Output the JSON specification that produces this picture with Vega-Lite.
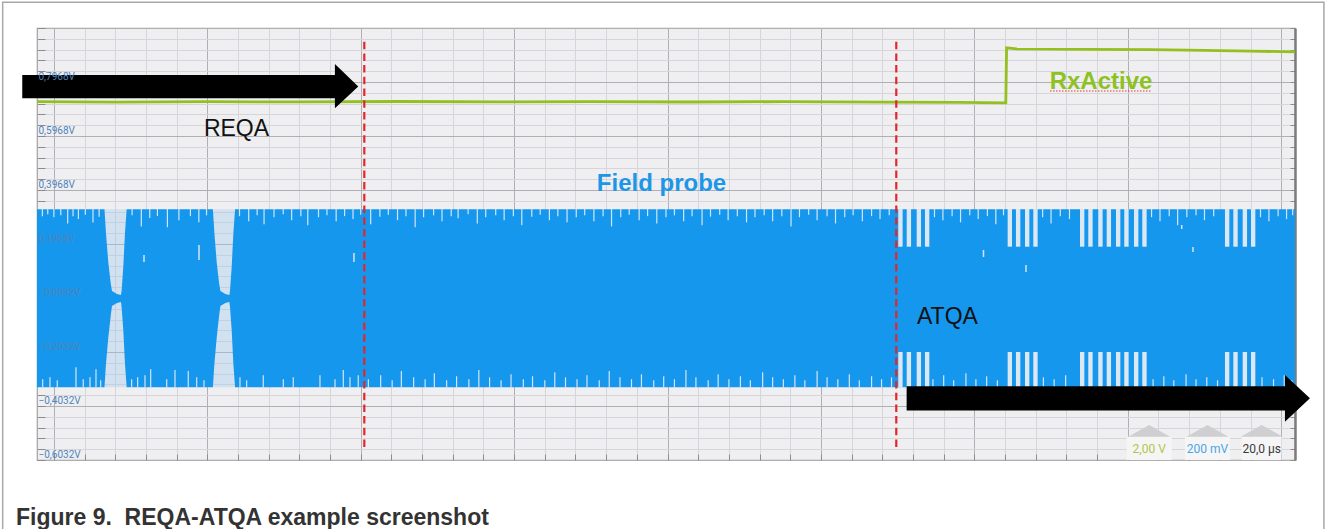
{
  "$schema": "https://vega.github.io/schema/vega-lite/v6.json",
  "width": 1258,
  "height": 432,
  "autosize": "none",
  "padding": {"left": 37, "top": 28, "right": 34, "bottom": 69},
  "background": "white",
  "config": {"view": {"fill": "#efeff1", "stroke": "#a2a2a2", "strokeWidth": 1.2}},
  "datasets": {
    "frame": [{"t": -6.675, "t2": 165.57, "v": 1.092, "v2": -0.899}],
    "gaps": [{"t": 6.5, "t2": 9.6, "v": 0.3253, "v2": -0.3339}, {"t": 20.65, "t2": 23.75, "v": 0.3253, "v2": -0.3339}],
    "carrier": [
      {"t": -2.2, "v": 0.3253, "v2": -0.3339},
      {"t": 6.597, "v": 0.3253, "v2": -0.3339},
      {"t": 6.792, "v": 0.2375, "v2": -0.2476},
      {"t": 7.092, "v": 0.1301, "v2": -0.1513},
      {"t": 7.405, "v": 0.0524, "v2": -0.0699},
      {"t": 7.574, "v": 0.0227, "v2": -0.0328},
      {"t": 8.226, "v": 0.0116, "v2": -0.0217},
      {"t": 8.748, "v": 0.0079, "v2": -0.018},
      {"t": 8.839, "v": 0.0264, "v2": -0.0402},
      {"t": 9.047, "v": 0.1116, "v2": -0.1217},
      {"t": 9.269, "v": 0.2375, "v2": -0.2476},
      {"t": 9.491, "v": 0.3253, "v2": -0.3339},
      {"t": 20.729, "v": 0.3253, "v2": -0.3339},
      {"t": 20.924, "v": 0.2375, "v2": -0.2476},
      {"t": 21.224, "v": 0.1301, "v2": -0.1513},
      {"t": 21.537, "v": 0.0524, "v2": -0.0699},
      {"t": 21.706, "v": 0.0227, "v2": -0.0328},
      {"t": 22.358, "v": 0.0116, "v2": -0.0217},
      {"t": 22.88, "v": 0.0079, "v2": -0.018},
      {"t": 22.971, "v": 0.0264, "v2": -0.0402},
      {"t": 23.179, "v": 0.1116, "v2": -0.1217},
      {"t": 23.401, "v": 0.2375, "v2": -0.2476},
      {"t": 23.623, "v": 0.3253, "v2": -0.3339},
      {"t": 161.8, "v": 0.3253, "v2": -0.3339}
    ],
    "stripes": [
      {"t": 110.08, "t2": 110.65, "v": 0.327, "v2": 0.1868}, {"t": 111.18, "t2": 111.75, "v": 0.327, "v2": 0.1868}, {"t": 112.48, "t2": 113.05, "v": 0.327, "v2": 0.1868}, {"t": 113.56, "t2": 114.13, "v": 0.327, "v2": 0.1868},
      {"t": 124.34, "t2": 124.91, "v": 0.327, "v2": 0.1868}, {"t": 125.42, "t2": 125.99, "v": 0.327, "v2": 0.1868}, {"t": 126.6, "t2": 127.17, "v": 0.327, "v2": 0.1868}, {"t": 127.68, "t2": 128.25, "v": 0.327, "v2": 0.1868},
      {"t": 133.77, "t2": 134.34, "v": 0.327, "v2": 0.1868}, {"t": 134.85, "t2": 135.42, "v": 0.327, "v2": 0.1868}, {"t": 136.15, "t2": 136.72, "v": 0.327, "v2": 0.1868}, {"t": 137.25, "t2": 137.82, "v": 0.327, "v2": 0.1868},
      {"t": 138.46, "t2": 139.03, "v": 0.327, "v2": 0.1868}, {"t": 139.54, "t2": 140.11, "v": 0.327, "v2": 0.1868}, {"t": 140.81, "t2": 141.38, "v": 0.327, "v2": 0.1868}, {"t": 141.89, "t2": 142.46, "v": 0.327, "v2": 0.1868},
      {"t": 152.67, "t2": 153.24, "v": 0.327, "v2": 0.1868}, {"t": 153.76, "t2": 154.33, "v": 0.327, "v2": 0.1868}, {"t": 154.98, "t2": 155.55, "v": 0.327, "v2": 0.1868}, {"t": 156.06, "t2": 156.63, "v": 0.327, "v2": 0.1868},
      {"t": 110.08, "t2": 110.65, "v": -0.2032, "v2": -0.335}, {"t": 111.18, "t2": 111.75, "v": -0.2032, "v2": -0.335}, {"t": 112.48, "t2": 113.05, "v": -0.2032, "v2": -0.335}, {"t": 113.56, "t2": 114.13, "v": -0.2032, "v2": -0.335},
      {"t": 124.34, "t2": 124.91, "v": -0.2032, "v2": -0.335}, {"t": 125.42, "t2": 125.99, "v": -0.2032, "v2": -0.335}, {"t": 126.6, "t2": 127.17, "v": -0.2032, "v2": -0.335}, {"t": 127.68, "t2": 128.25, "v": -0.2032, "v2": -0.335},
      {"t": 133.77, "t2": 134.34, "v": -0.2032, "v2": -0.335}, {"t": 134.85, "t2": 135.42, "v": -0.2032, "v2": -0.335}, {"t": 136.15, "t2": 136.72, "v": -0.2032, "v2": -0.335}, {"t": 137.25, "t2": 137.82, "v": -0.2032, "v2": -0.335},
      {"t": 138.46, "t2": 139.03, "v": -0.2032, "v2": -0.335}, {"t": 139.54, "t2": 140.11, "v": -0.2032, "v2": -0.335}, {"t": 140.81, "t2": 141.38, "v": -0.2032, "v2": -0.335}, {"t": 141.89, "t2": 142.46, "v": -0.2032, "v2": -0.335},
      {"t": 152.67, "t2": 153.24, "v": -0.2032, "v2": -0.335}, {"t": 153.76, "t2": 154.33, "v": -0.2032, "v2": -0.335}, {"t": 154.98, "t2": 155.55, "v": -0.2032, "v2": -0.335}, {"t": 156.06, "t2": 156.63, "v": -0.2032, "v2": -0.335}
    ],
    "spikesTop": [
      {"t": -1.5, "v": 0.3}, {"t": -0.8, "v": 0.307}, {"t": 0.0, "v": 0.296}, {"t": 0.9, "v": 0.303}, {"t": 1.8, "v": 0.273}, {"t": 2.5, "v": 0.3}, {"t": 3.2, "v": 0.289}, {"t": 4.1, "v": 0.305}, {"t": 5.1, "v": 0.276}, {"t": 5.9, "v": 0.298},
      {"t": 10.2, "v": 0.303}, {"t": 11.4, "v": 0.262}, {"t": 12.5, "v": 0.293}, {"t": 13.5, "v": 0.3}, {"t": 14.8, "v": 0.259}, {"t": 16.3, "v": 0.285}, {"t": 17.8, "v": 0.3}, {"t": 18.9, "v": 0.277}, {"t": 19.9, "v": 0.303},
      {"t": 24.2, "v": 0.3}, {"t": 25.4, "v": 0.281}, {"t": 26.5, "v": 0.303}, {"t": 27.4, "v": 0.27}, {"t": 28.7, "v": 0.296}, {"t": 29.9, "v": 0.307}, {"t": 31.0, "v": 0.285}, {"t": 32.2, "v": 0.3}, {"t": 33.1, "v": 0.266}, {"t": 34.5, "v": 0.296},
      {"t": 35.6, "v": 0.303}, {"t": 36.8, "v": 0.281}, {"t": 37.9, "v": 0.3}, {"t": 39.0, "v": 0.289}, {"t": 40.0, "v": 0.305}, {"t": 41.3, "v": 0.27}, {"t": 42.5, "v": 0.298}, {"t": 43.6, "v": 0.305}, {"t": 44.8, "v": 0.285}, {"t": 45.9, "v": 0.3},
      {"t": 47.1, "v": 0.259}, {"t": 48.2, "v": 0.296}, {"t": 49.5, "v": 0.303}, {"t": 50.6, "v": 0.281}, {"t": 51.8, "v": 0.3}, {"t": 52.7, "v": 0.292}, {"t": 54.0, "v": 0.307}, {"t": 55.2, "v": 0.273}, {"t": 56.3, "v": 0.296}, {"t": 57.6, "v": 0.303},
      {"t": 58.7, "v": 0.285}, {"t": 59.9, "v": 0.3}, {"t": 61.0, "v": 0.266}, {"t": 62.3, "v": 0.298}, {"t": 63.4, "v": 0.305}, {"t": 64.6, "v": 0.285}, {"t": 65.7, "v": 0.3}, {"t": 66.9, "v": 0.277}, {"t": 68.1, "v": 0.296}, {"t": 69.2, "v": 0.303},
      {"t": 70.4, "v": 0.281}, {"t": 71.6, "v": 0.3}, {"t": 72.7, "v": 0.262}, {"t": 73.9, "v": 0.296}, {"t": 75.0, "v": 0.305}, {"t": 76.3, "v": 0.285}, {"t": 77.4, "v": 0.3}, {"t": 78.6, "v": 0.273}, {"t": 79.8, "v": 0.296}, {"t": 80.9, "v": 0.303},
      {"t": 82.1, "v": 0.281}, {"t": 83.2, "v": 0.3}, {"t": 84.5, "v": 0.266}, {"t": 85.6, "v": 0.298}, {"t": 86.8, "v": 0.305}, {"t": 87.9, "v": 0.285}, {"t": 89.1, "v": 0.3}, {"t": 90.3, "v": 0.277}, {"t": 91.4, "v": 0.296}, {"t": 92.6, "v": 0.303},
      {"t": 93.7, "v": 0.281}, {"t": 94.9, "v": 0.3}, {"t": 96.1, "v": 0.262}, {"t": 97.2, "v": 0.296}, {"t": 98.4, "v": 0.305}, {"t": 99.5, "v": 0.285}, {"t": 100.8, "v": 0.3}, {"t": 101.9, "v": 0.273}, {"t": 103.1, "v": 0.296}, {"t": 104.2, "v": 0.303},
      {"t": 105.4, "v": 0.281}, {"t": 106.6, "v": 0.3}, {"t": 107.7, "v": 0.289}, {"t": 108.9, "v": 0.303},
      {"t": 114.8, "v": 0.296}, {"t": 115.9, "v": 0.285}, {"t": 117.1, "v": 0.3}, {"t": 118.2, "v": 0.277}, {"t": 119.4, "v": 0.303}, {"t": 120.5, "v": 0.289}, {"t": 121.7, "v": 0.3}, {"t": 122.8, "v": 0.27}, {"t": 123.8, "v": 0.303},
      {"t": 128.9, "v": 0.296}, {"t": 130.0, "v": 0.273}, {"t": 131.2, "v": 0.3}, {"t": 132.4, "v": 0.289},
      {"t": 143.1, "v": 0.296}, {"t": 144.2, "v": 0.281}, {"t": 145.4, "v": 0.3}, {"t": 146.5, "v": 0.266}, {"t": 147.7, "v": 0.296}, {"t": 148.9, "v": 0.303}, {"t": 150.0, "v": 0.285}, {"t": 151.2, "v": 0.3},
      {"t": 157.3, "v": 0.296}, {"t": 158.4, "v": 0.281}, {"t": 159.6, "v": 0.3}, {"t": 160.7, "v": 0.289}, {"t": 161.5, "v": 0.303}
    ],
    "spikesBottom": [
      {"t": -1.46, "v": -0.304}, {"t": -0.51, "v": -0.297}, {"t": 0.44, "v": -0.308}, {"t": 2.88, "v": -0.26}, {"t": 3.83, "v": -0.304}, {"t": 4.71, "v": -0.297}, {"t": 5.49, "v": -0.267}, {"t": 6.1, "v": -0.308},
      {"t": 10.14, "v": -0.304}, {"t": 10.92, "v": -0.297}, {"t": 11.88, "v": -0.289}, {"t": 12.62, "v": -0.267}, {"t": 14.71, "v": -0.304}, {"t": 15.79, "v": -0.27}, {"t": 17.52, "v": -0.274}, {"t": 18.62, "v": -0.297}, {"t": 19.57, "v": -0.308},
      {"t": 24.26, "v": -0.297}, {"t": 25.13, "v": -0.308}, {"t": 27.3, "v": -0.289}, {"t": 29.91, "v": -0.304}, {"t": 31.21, "v": -0.297}, {"t": 34.69, "v": -0.289}, {"t": 36.65, "v": -0.304}, {"t": 37.73, "v": -0.27}, {"t": 38.6, "v": -0.297}, {"t": 39.68, "v": -0.289},
      {"t": 41.0, "v": -0.304}, {"t": 42.6, "v": -0.289}, {"t": 44.1, "v": -0.308}, {"t": 45.3, "v": -0.274}, {"t": 46.9, "v": -0.297}, {"t": 48.4, "v": -0.304}, {"t": 49.6, "v": -0.282}, {"t": 51.2, "v": -0.308}, {"t": 52.5, "v": -0.293}, {"t": 54.1, "v": -0.304},
      {"t": 55.4, "v": -0.27}, {"t": 56.8, "v": -0.297}, {"t": 58.3, "v": -0.308}, {"t": 59.6, "v": -0.286}, {"t": 61.2, "v": -0.304}, {"t": 62.4, "v": -0.293}, {"t": 64.0, "v": -0.308}, {"t": 65.3, "v": -0.278}, {"t": 66.7, "v": -0.297}, {"t": 68.2, "v": -0.304},
      {"t": 69.5, "v": -0.289}, {"t": 71.1, "v": -0.308}, {"t": 72.4, "v": -0.274}, {"t": 73.8, "v": -0.297}, {"t": 75.3, "v": -0.304}, {"t": 76.6, "v": -0.286}, {"t": 78.2, "v": -0.308}, {"t": 79.5, "v": -0.293}, {"t": 80.9, "v": -0.304}, {"t": 82.4, "v": -0.27},
      {"t": 83.7, "v": -0.297}, {"t": 85.3, "v": -0.308}, {"t": 86.6, "v": -0.286}, {"t": 88.0, "v": -0.304}, {"t": 89.5, "v": -0.293}, {"t": 90.8, "v": -0.308}, {"t": 92.4, "v": -0.278}, {"t": 93.7, "v": -0.297}, {"t": 95.1, "v": -0.304}, {"t": 96.6, "v": -0.289},
      {"t": 97.9, "v": -0.308}, {"t": 99.5, "v": -0.274}, {"t": 100.8, "v": -0.297}, {"t": 102.2, "v": -0.304}, {"t": 103.7, "v": -0.286}, {"t": 105.0, "v": -0.308}, {"t": 106.6, "v": -0.293}, {"t": 107.9, "v": -0.304}, {"t": 109.2, "v": -0.297},
      {"t": 114.6, "v": -0.304}, {"t": 116.0, "v": -0.289}, {"t": 117.3, "v": -0.308}, {"t": 118.9, "v": -0.282}, {"t": 120.2, "v": -0.304}, {"t": 121.6, "v": -0.293}, {"t": 123.0, "v": -0.308},
      {"t": 129.0, "v": -0.297}, {"t": 130.4, "v": -0.304}, {"t": 131.9, "v": -0.289},
      {"t": 143.3, "v": -0.304}, {"t": 144.7, "v": -0.293}, {"t": 146.0, "v": -0.308}, {"t": 147.6, "v": -0.286}, {"t": 148.9, "v": -0.304}, {"t": 150.3, "v": -0.297}, {"t": 151.7, "v": -0.308},
      {"t": 157.5, "v": -0.297}, {"t": 159.0, "v": -0.304}, {"t": 160.4, "v": -0.289}, {"t": 161.4, "v": -0.308}
    ],
    "dashes": [
      {"t": 11.75, "v": 0.1561, "v2": 0.1301}, {"t": 18.92, "v": 0.1931, "v2": 0.1375}, {"t": 39.12, "v": 0.1635, "v2": 0.1301},
      {"t": 121.19, "v": 0.1746, "v2": 0.1487}, {"t": 126.73, "v": 0.119, "v2": 0.0931}, {"t": 147.03, "v": 0.2672, "v2": 0.2524}, {"t": 148.5, "v": 0.1857, "v2": 0.1672}
    ],
    "rxactive": [
      {"t": -2.2, "v": 0.7238}, {"t": 8, "v": 0.7225}, {"t": 20, "v": 0.724}, {"t": 32, "v": 0.723}, {"t": 45, "v": 0.7245}, {"t": 58, "v": 0.7232},
      {"t": 70, "v": 0.7238}, {"t": 83, "v": 0.7228}, {"t": 95, "v": 0.724}, {"t": 108, "v": 0.7226}, {"t": 118, "v": 0.7215}, {"t": 124.1, "v": 0.7195},
      {"t": 124.2, "v": 0.9235}, {"t": 125.5, "v": 0.9195}, {"t": 135, "v": 0.918}, {"t": 143, "v": 0.9165}, {"t": 150, "v": 0.914}, {"t": 156, "v": 0.911}, {"t": 161.8, "v": 0.9085}
    ],
    "markers": [{"t": 40.47, "v": 0.9461, "v2": -0.5662}, {"t": 109.82, "v": 0.9461, "v2": -0.5662}],
    "squiggle": [{"t": 129.86, "t2": 143.12, "v": 0.7635}],
    "badges": [
      {"t": 139.86, "t2": 145.73, "c": 142.79, "v": -0.5169, "v2": -0.6032, "vt": -0.4952, "vx": -0.5636, "label": "2,00 V", "k": "ch1"},
      {"t": 147.46, "t2": 153.33, "c": 150.39, "v": -0.5169, "v2": -0.6032, "vt": -0.4952, "vx": -0.5636, "label": "200 mV", "k": "ch2"},
      {"t": 154.85, "t2": 160.06, "c": 157.46, "v": -0.5169, "v2": -0.6032, "vt": -0.4952, "vx": -0.5636, "label": "20,0 µs", "k": "time"}
    ],
    "notesPlain": [{"t": 23.81, "v": 0.5968, "label": "REQA", "k": "plain"}, {"t": 116.49, "v": -0.1006, "label": "ATQA", "k": "plain"}],
    "notesBold": [{"t": 79.21, "v": 0.3931, "label": "Field probe", "k": "probe"}, {"t": 136.51, "v": 0.7698, "label": "RxActive", "k": "rx"}],
    "arrowReqa": [{"t": 17.78, "v": 0.7805}],
    "arrowAtqa": [{"t": 137.46, "v": -0.3747}],
    "caption": [{"t": -4.94, "v": -0.8439, "label": "Figure 9.\u00a0 REQA-ATQA example screenshot"}]
  },
  "encoding": {
    "x": {"field": "t", "type": "quantitative", "scale": {"domain": [-2.2, 161.8], "nice": false, "zero": false}, "axis": null},
    "y": {"field": "v", "type": "quantitative", "scale": {"domain": [-0.6032, 0.9968], "nice": false, "zero": false}, "axis": null}
  },
  "layer": [
    {
      "data": {"name": "frame"},
      "mark": {"type": "rect", "filled": false, "color": "#a8a8a8", "strokeWidth": 1.5, "clip": false},
      "encoding": {
        "x": {"field": "t", "type": "quantitative", "scale": {"domain": [-2.2, 161.8], "nice": false, "zero": false},
          "axis": {"orient": "bottom", "title": null, "values": [0,4,8,12,16,20,24,28,32,36,40,44,48,52,56,60,64,68,72,76,80,84,88,92,96,100,104,108,112,116,120,124,128,132,136,140,144,148,152,156,160],
            "grid": true, "gridColor": "#d6d6da", "gridWidth": 1, "ticks": false, "labels": false, "domain": false}},
        "x2": {"field": "t2"},
        "y": {"field": "v", "type": "quantitative", "scale": {"domain": [-0.6032, 0.9968], "nice": false, "zero": false},
          "axis": {"orient": "left", "title": null, "values": [-0.6032,-0.5632,-0.5232,-0.4832,-0.4432,-0.4032,-0.3632,-0.3232,-0.2832,-0.2432,-0.2032,-0.1632,-0.1232,-0.0832,-0.0432,-0.0032,0.0368,0.0768,0.1168,0.1568,0.1968,0.2368,0.2768,0.3168,0.3568,0.3968,0.4368,0.4768,0.5168,0.5568,0.5968,0.6368,0.6768,0.7168,0.7568,0.7968,0.8368,0.8768,0.9168,0.9568,0.9968],
            "grid": true, "gridColor": "#d6d6da", "gridWidth": 1, "ticks": false, "labels": false, "domain": false}},
        "y2": {"field": "v2"}
      }
    },
    {
      "data": {"name": "gaps"},
      "mark": {"type": "rect", "color": "#9ec8ee", "opacity": 0.35},
      "encoding": {
        "x": {"field": "t", "type": "quantitative", "scale": {"domain": [-2.2, 161.8], "nice": false, "zero": false},
          "axis": {"orient": "bottom", "title": null, "values": [0,20,40,60,80,100,120,140,160], "grid": true, "gridColor": "#b0b0b4", "gridWidth": 1, "ticks": false, "labels": false, "domain": false}},
        "x2": {"field": "t2"},
        "y": {"field": "v", "type": "quantitative", "scale": {"domain": [-0.6032, 0.9968], "nice": false, "zero": false},
          "axis": {"orient": "left", "title": null, "values": [-0.6032,-0.4032,-0.2032,-0.0032,0.1968,0.3968,0.5968,0.7968,0.9968], "grid": true, "gridColor": "#b0b0b4", "gridWidth": 1, "ticks": false, "labels": false, "domain": false}},
        "y2": {"field": "v2"}
      }
    },
    {
      "data": {"name": "carrier"},
      "mark": {"type": "area", "color": "#1597ee", "opacity": 1, "interpolate": "linear"},
      "encoding": {
        "x": {"field": "t", "type": "quantitative", "scale": {"domain": [-2.2, 161.8], "nice": false, "zero": false},
          "axis": {"orient": "bottom", "title": null, "values": [0,4,8,12,16,20,24,28,32,36,40,44,48,52,56,60,64,68,72,76,80,84,88,92,96,100,104,108,112,116,120,124,128,132,136,140,144,148,152,156,160],
            "grid": false, "ticks": true, "tickSize": -6, "tickColor": "#8c8c8c", "tickWidth": 1, "labels": false, "domain": false}},
        "y": {"field": "v", "type": "quantitative", "scale": {"domain": [-0.6032, 0.9968], "nice": false, "zero": false},
          "axis": {"orient": "left", "title": null, "values": [-0.6032,-0.5632,-0.5232,-0.4832,-0.4432,-0.4032,-0.3632,-0.3232,-0.2832,-0.2432,-0.2032,-0.1632,-0.1232,-0.0832,-0.0432,-0.0032,0.0368,0.0768,0.1168,0.1568,0.1968,0.2368,0.2768,0.3168,0.3568,0.3968,0.4368,0.4768,0.5168,0.5568,0.5968,0.6368,0.6768,0.7168,0.7568,0.7968,0.8368,0.8768,0.9168,0.9568,0.9968],
            "grid": false, "ticks": true, "tickSize": -8, "tickColor": "#8c8c8c", "tickWidth": 1, "labels": false, "domain": false}},
        "y2": {"field": "v2"}
      }
    },
    {
      "data": {"name": "stripes"},
      "mark": {"type": "rect", "color": "#dbe7f3"},
      "encoding": {"x2": {"field": "t2"}, "y2": {"field": "v2"}}
    },
    {
      "data": {"name": "spikesTop"},
      "mark": {"type": "rule", "color": "#d6e4f2", "strokeWidth": 1.2},
      "encoding": {"y2": {"datum": 0.327}}
    },
    {
      "data": {"name": "spikesBottom"},
      "mark": {"type": "rule", "color": "#d6e4f2", "strokeWidth": 1.2},
      "encoding": {"y2": {"datum": -0.335}}
    },
    {
      "data": {"name": "dashes"},
      "mark": {"type": "rule", "color": "#d6e4f2", "strokeWidth": 1.5},
      "encoding": {"y2": {"field": "v2"}}
    },
    {
      "data": {"name": "rxactive"},
      "mark": {"type": "line", "color": "#93c01f", "strokeWidth": 2.8, "interpolate": "linear"},
      "encoding": {
        "y": {"field": "v", "type": "quantitative", "scale": {"domain": [-0.6032, 0.9968], "nice": false, "zero": false},
          "axis": {"orient": "right", "title": null, "values": [-0.6032,-0.5632,-0.5232,-0.4832,-0.4432,-0.4032,-0.3632,-0.3232,-0.2832,-0.2432,-0.2032,-0.1632,-0.1232,-0.0832,-0.0432,-0.0032,0.0368,0.0768,0.1168,0.1568,0.1968,0.2368,0.2768,0.3168,0.3568,0.3968,0.4368,0.4768,0.5168,0.5568,0.5968,0.6368,0.6768,0.7168,0.7568,0.7968,0.8368,0.8768,0.9168,0.9568,0.9968],
            "grid": false, "ticks": true, "tickSize": -5, "tickColor": "#8c8c8c", "tickWidth": 1, "labels": false, "domain": true, "domainColor": "#7c7c7c", "domainWidth": 2.5}}
      }
    },
    {
      "data": {"name": "markers"},
      "mark": {"type": "rule", "color": "#e3262c", "strokeWidth": 2.2, "strokeDash": [7.5, 4.2]},
      "encoding": {"y2": {"field": "v2"}}
    },
    {
      "data": {"name": "squiggle"},
      "mark": {"type": "rule", "color": "#e0393b", "strokeWidth": 1, "strokeDash": [1.5, 1.5]},
      "encoding": {"x2": {"field": "t2"}}
    },
    {
      "data": {"name": "badges"},
      "mark": {"type": "rect", "color": "#f5f5f6"},
      "encoding": {"x2": {"field": "t2"}, "y2": {"field": "v2"}}
    },
    {
      "data": {"name": "badges"},
      "mark": {"type": "point", "shape": "M-1,0.28L0,-0.28L1,0.28Z", "size": 1764, "filled": true, "color": "#cfcfd1", "opacity": 1},
      "encoding": {
        "x": {"field": "c", "type": "quantitative", "scale": {"domain": [-2.2, 161.8], "nice": false, "zero": false}, "axis": null},
        "y": {"field": "vt", "type": "quantitative", "scale": {"domain": [-0.6032, 0.9968], "nice": false, "zero": false}, "axis": null}
      }
    },
    {
      "data": {"name": "badges"},
      "mark": {"type": "text", "font": "Roboto", "fontSize": 12, "align": "center", "baseline": "middle"},
      "encoding": {
        "x": {"field": "c", "type": "quantitative", "scale": {"domain": [-2.2, 161.8], "nice": false, "zero": false}, "axis": null},
        "y": {"field": "vx", "type": "quantitative", "scale": {"domain": [-0.6032, 0.9968], "nice": false, "zero": false}, "axis": null},
        "text": {"field": "label"},
        "color": {"field": "k", "type": "nominal", "scale": {"domain": ["rx", "probe", "plain", "ch1", "ch2", "time"], "range": ["#8dc21f", "#1e96e8", "#111111", "#b3c44a", "#4aa5e8", "#3a3a3a"]}, "legend": null}
      }
    },
    {
      "data": {"name": "notesPlain"},
      "mark": {"type": "text", "font": "Liberation Sans", "fontSize": 23, "align": "center", "baseline": "alphabetic"},
      "encoding": {
        "y": {"field": "v", "type": "quantitative", "scale": {"domain": [-0.6032, 0.9968], "nice": false, "zero": false},
          "axis": {"orient": "left", "title": null, "values": [-0.6032,-0.4032,-0.2032,-0.0032,0.1968,0.3968,0.5968,0.7968],
            "labelExpr": "replace(format(datum.value, '.4f'), '.', ',') + 'V'",
            "labels": true, "labelAlign": "left", "labelBaseline": "middle", "labelPadding": -1, "labelOffset": -6,
            "labelFontSize": 10, "labelFont": "Roboto", "labelColor": "#4f84ba", "labelBound": false, "labelOverlap": false, "labelFlush": false,
            "ticks": false, "domain": false, "grid": false, "zindex": 1}},
        "text": {"field": "label"},
        "color": {"field": "k", "type": "nominal", "scale": {"domain": ["rx", "probe", "plain", "ch1", "ch2", "time"], "range": ["#8dc21f", "#1e96e8", "#111111", "#b3c44a", "#4aa5e8", "#3a3a3a"]}, "legend": null}
      }
    },
    {
      "data": {"name": "notesBold"},
      "mark": {"type": "text", "font": "Liberation Sans", "fontSize": 24, "fontWeight": "bold", "align": "center", "baseline": "alphabetic"},
      "encoding": {
        "text": {"field": "label"},
        "color": {"field": "k", "type": "nominal", "scale": {"domain": ["rx", "probe", "plain", "ch1", "ch2", "time"], "range": ["#8dc21f", "#1e96e8", "#111111", "#b3c44a", "#4aa5e8", "#3a3a3a"]}, "legend": null}
      }
    },
    {
      "data": {"name": "arrowReqa"},
      "mark": {"type": "point", "shape": "M-1,-0.068L0.861,-0.068L0.861,-0.133L1,0L0.861,0.13L0.861,0.07L-1,0.07Z", "size": 112896, "filled": true, "color": "#000000", "opacity": 1, "clip": false}
    },
    {
      "data": {"name": "arrowAtqa"},
      "mark": {"type": "point", "shape": "M-1,-0.06L0.876,-0.06L0.876,-0.116L1,0L0.876,0.116L0.876,0.06L-1,0.06Z", "size": 162651, "filled": true, "color": "#000000", "opacity": 1, "clip": false}
    },
    {
      "data": {"name": "caption"},
      "mark": {"type": "text", "font": "Liberation Sans", "fontSize": 23, "fontWeight": "bold", "color": "#333333", "align": "left", "baseline": "alphabetic"},
      "encoding": {"text": {"field": "label"}}
    }
  ],
  "resolve": {"axis": {"x": "independent", "y": "independent"}}
}
